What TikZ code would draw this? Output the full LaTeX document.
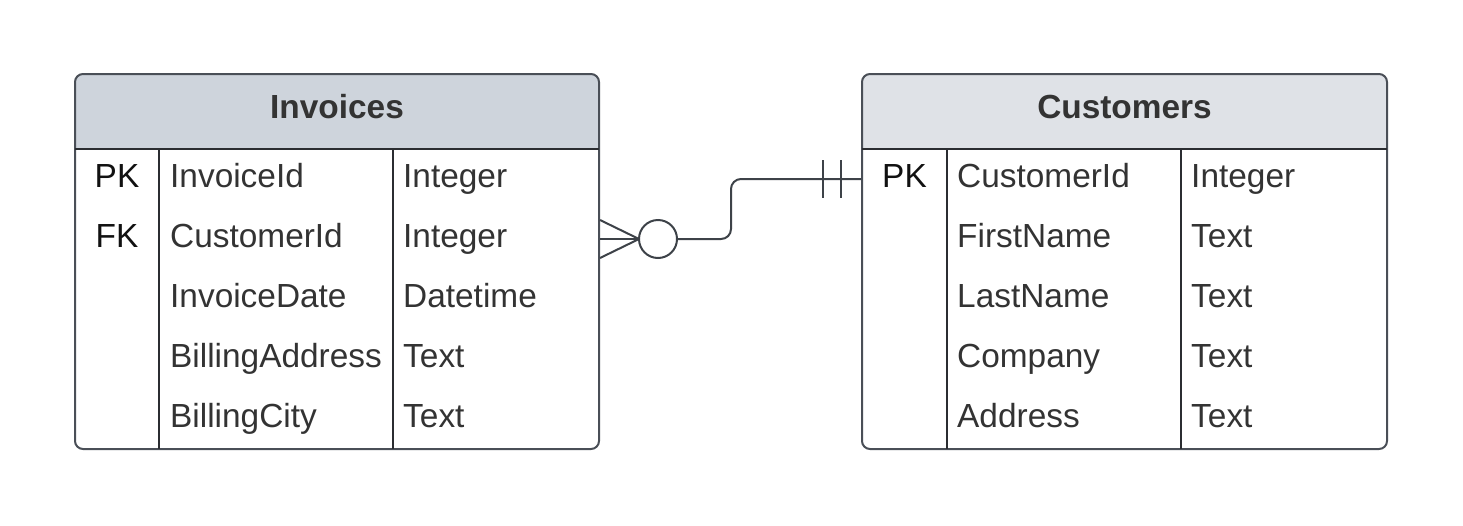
\documentclass[tikz,border=0pt]{standalone}
\usepackage{fontspec}
\setmainfont{Liberation Sans}
\definecolor{hdrA}{HTML}{CED4DC}
\definecolor{hdrB}{HTML}{DFE2E7}
\definecolor{txt}{HTML}{333333}
\definecolor{keytxt}{HTML}{111111}
\definecolor{border}{HTML}{4A4F57}
\definecolor{inner}{HTML}{2B2D31}
\definecolor{conn}{HTML}{3D4248}
\tikzset{
  tablebox/.style={draw=border, line width=2pt, rounded corners=8pt, inner sep=0pt, minimum width=524pt, minimum height=375pt},
  innerline/.style={draw=inner, line width=1.6pt},
  cell/.style={font=\fontsize{33.4}{40}\selectfont, text=txt, inner sep=0pt},
  keycell/.style={cell, text=keytxt},
  title/.style={font=\fontsize{33.4}{40}\selectfont\bfseries, text=txt, inner sep=0pt},
  connector/.style={draw=conn, line width=2pt},
}
\begin{document}
\begin{tikzpicture}[x=1pt,y=-1pt]
\useasboundingbox (0,0) rectangle (1463,525);
% ---------- Invoices ----------
\begin{scope}
  \clip (74,73) rectangle (600,149);
  \fill[hdrA, rounded corners=8pt] (75,74) rectangle (599,449);
\end{scope}
\node[tablebox] (inv) at (337,261.5) {};
\draw[innerline] (75,149) -- (599,149);
\draw[innerline] (159,149) -- (159,449);
\draw[innerline] (393,149) -- (393,449);
\node[title, anchor=base] (invtitle) at (337,118) {Invoices};
\node[keycell, anchor=base] (invpk) at (117,187) {PK};
\node[keycell, anchor=base] (invfk) at (117,247) {FK};
\node[cell, anchor=base west] (invn1) at (170,187) {InvoiceId};
\node[cell, anchor=base west] (invn2) at (170,247) {CustomerId};
\node[cell, anchor=base west] (invn3) at (170,307) {InvoiceDate};
\node[cell, anchor=base west] (invn4) at (170,367) {BillingAddress};
\node[cell, anchor=base west] (invn5) at (170,427) {BillingCity};
\node[cell, anchor=base west] (invt1) at (403,187) {Integer};
\node[cell, anchor=base west] (invt2) at (403,247) {Integer};
\node[cell, anchor=base west] (invt3) at (403,307) {Datetime};
\node[cell, anchor=base west] (invt4) at (403,367) {Text};
\node[cell, anchor=base west] (invt5) at (403,427) {Text};
% ---------- Customers ----------
\begin{scope}
  \clip (861,73) rectangle (1388,149);
  \fill[hdrB, rounded corners=8pt] (862,74) rectangle (1387,449);
\end{scope}
\node[tablebox, minimum width=525pt] (cust) at (1124.5,261.5) {};
\draw[innerline] (862,149) -- (1387,149);
\draw[innerline] (947,149) -- (947,449);
\draw[innerline] (1181,149) -- (1181,449);
\node[title, anchor=base] (custtitle) at (1124.5,118) {Customers};
\node[keycell, anchor=base] (custpk) at (904.5,187) {PK};
\node[cell, anchor=base west] (custn1) at (957,187) {CustomerId};
\node[cell, anchor=base west] (custn2) at (957,247) {FirstName};
\node[cell, anchor=base west] (custn3) at (957,307) {LastName};
\node[cell, anchor=base west] (custn4) at (957,367) {Company};
\node[cell, anchor=base west] (custn5) at (957,427) {Address};
\node[cell, anchor=base west] (custt1) at (1191,187) {Integer};
\node[cell, anchor=base west] (custt2) at (1191,247) {Text};
\node[cell, anchor=base west] (custt3) at (1191,307) {Text};
\node[cell, anchor=base west] (custt4) at (1191,367) {Text};
\node[cell, anchor=base west] (custt5) at (1191,427) {Text};
% ---------- Relationship ----------
\coordinate (a) at ([yshift=22.5pt]inv.east);
\coordinate (b) at ([yshift=82.5pt]cust.west);
\coordinate (foot) at ([xshift=39pt]a);
\node[draw=conn, line width=2pt, circle, minimum size=38pt, inner sep=0pt] (ring) at ([xshift=58pt]a) {};
\draw[connector] ([yshift=19pt]a) -- (foot);
\draw[connector] ([yshift=-19pt]a) -- (foot);
\draw[connector] (a) -- (ring.west);
\draw[connector, rounded corners=10pt] (ring.east) -- (731,239) -- (731,179) -- (b);
\draw[connector] ([xshift=-38pt,yshift=19pt]b) -- ([xshift=-38pt,yshift=-19pt]b);
\draw[connector] ([xshift=-20pt,yshift=19pt]b) -- ([xshift=-20pt,yshift=-19pt]b);
\end{tikzpicture}
\end{document}
